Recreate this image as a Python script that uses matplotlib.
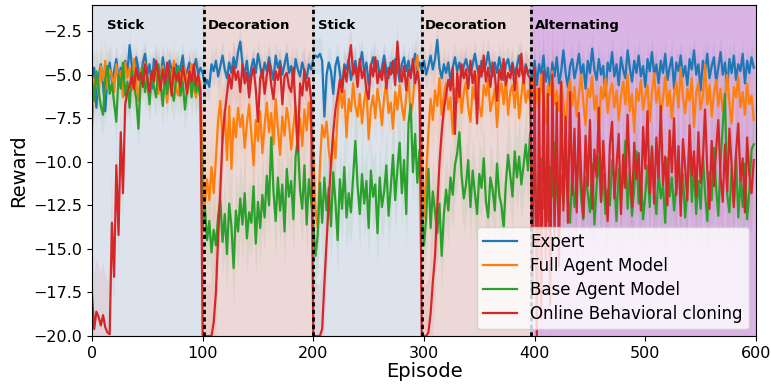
import numpy as np
import matplotlib
matplotlib.use("Agg")
import matplotlib.pyplot as plt

# episodes sampled every 2 episodes
episodes = np.arange(0, 600, 2)

expert = [
 -5.2,-4.6,-6.9,-5.1,-4.4,-5.6,-7.1,-5.0,-4.3,-5.4,
 -4.8,-4.1,-5.3,-4.6,-5.9,-4.2,-4.9,-3.3,-4.5,-5.2,
 -4.0,-4.7,-5.5,-4.3,-3.8,-5.0,-4.4,-5.8,-4.1,-4.8,
 -4.5,-5.3,-4.0,-4.9,-5.6,-4.2,-4.7,-5.1,-4.4,-5.4,
 -4.6,-3.9,-5.2,-4.8,-4.3,-5.5,-4.7,-4.1,-5.0,-4.6,
 -4.9,-5.6,-5.3,-5.7,-4.4,-4.8,-4.2,-5.1,-4.5,-3.9,
 -4.7,-5.2,-4.3,-4.9,-4.0,-4.6,-3.7,-3.1,-4.4,-5.0,
 -4.2,-5.5,-4.6,-4.1,-4.9,-3.8,-4.5,-5.2,-4.3,-4.8,
 -4.0,-4.7,-5.3,-3.9,-4.6,-4.2,-5.0,-4.4,-3.8,-4.9,
 -4.5,-5.4,-4.1,-4.7,-5.1,-4.3,-4.8,-5.2,-4.4,-4.7,
 -4.1,-3.9,-4.0,-3.8,-4.2,-7.4,-5.0,-4.3,-4.8,-6.1,
 -4.5,-4.0,-4.9,-5.8,-4.4,-4.7,-4.1,-5.3,-4.6,-4.2,
 -5.0,-4.4,-3.7,-4.9,-4.3,-5.6,-4.5,-4.0,-4.8,-4.2,
 -5.1,-4.6,-3.9,-4.7,-5.2,-4.3,-4.9,-4.1,-4.6,-5.4,
 -4.4,-4.0,-4.8,-4.2,-5.0,-4.5,-3.8,-4.7,-4.3,
 -4.8,-4.2,-5.0,-4.5,-3.9,-4.7,-4.1,-3.0,-4.6,-5.2,
 -4.4,-4.9,-4.3,-5.4,-4.6,-4.0,-4.8,-4.3,-5.1,-4.5,
 -4.1,-4.7,-5.0,-4.4,-3.8,-4.6,-5.2,-4.2,-4.8,-4.4,
 -3.7,-4.6,-5.1,-4.3,-4.9,-4.0,-4.7,-5.3,-4.4,-4.1,
 -4.8,-4.3,-5.0,-4.5,-3.9,-4.7,-5.2,-4.4,-4.9,
 -4.7,-5.3,-4.2,-5.6,-4.4,-5.0,-3.9,-5.4,-4.6,-5.9,
 -4.3,-5.1,-4.0,-5.5,-4.8,-3.6,-4.9,-5.7,-4.5,-4.1,
 -5.2,-4.6,-3.8,-5.0,-4.4,-5.8,-4.2,-4.9,-3.5,-4.7,
 -5.3,-4.1,-5.0,-4.5,-6.2,-4.3,-4.8,-3.7,-5.1,-4.4,
 -5.6,-4.0,-4.7,-5.2,-3.6,-4.6,-5.4,-4.2,-4.9,-3.9,
 -5.1,-4.5,-5.7,-4.1,-4.8,-3.7,-5.0,-4.4,-5.5,-4.2,
 -4.9,-3.8,-5.3,-4.6,-4.0,-5.8,-4.3,-4.8,-3.9,-5.1,
 -4.5,-5.6,-4.1,-4.7,-3.6,-5.0,-4.4,-5.9,-4.2,-4.8,
 -3.8,-5.2,-4.5,-4.0,-5.4,-4.6,-3.7,-5.0,-4.3,-5.7,
 -4.1,-4.9,-3.9,-5.3,-4.4,-4.8,-3.8,-5.5,-4.2,-4.9,
 -4.0,-4.6,
]

full_agent = [
 -8.0,-5.6,-4.9,-6.2,-4.5,-5.3,-4.2,-5.8,-4.7,-5.1,
 -6.0,-4.4,-5.5,-4.8,-6.3,-4.3,-5.2,-4.6,-5.9,-4.1,
 -5.4,-6.5,-4.7,-5.0,-4.3,-5.7,-6.4,-4.9,-5.3,-4.4,
 -6.1,-5.0,-4.5,-5.6,-6.6,-4.8,-5.2,-4.2,-5.8,-6.2,
 -4.9,-5.4,-4.6,-6.0,-5.1,-4.4,-5.7,-6.3,-5.0,-5.5,
 -10.5,-12.4,-11.0,-12.2,-10.3,-11.8,-9.8,-7.6,-6.5,-8.9,
 -7.0,-9.9,-6.8,-10.4,-7.5,-8.6,-6.9,-8.0,-7.3,-9.2,
 -7.8,-6.7,-8.4,-10.2,-7.6,-8.8,-7.1,-9.5,-7.9,-6.6,
 -8.3,-7.2,-9.0,-6.4,-8.1,-9.6,-7.4,-8.5,-6.9,-7.7,
 -9.3,-8.0,-6.8,-8.7,-7.5,-9.1,-7.0,-8.2,-6.6,-7.9,
 -9.6,-12.8,-13.8,-10.2,-7.9,-8.6,-7.7,-9.4,-10.3,-8.5,
 -9.8,-7.2,-5.6,-6.9,-5.9,-8.6,-6.4,-7.1,-5.5,-6.8,
 -7.4,-6.1,-7.8,-6.5,-5.7,-8.7,-6.9,-6.2,-7.5,-5.8,
 -6.7,-7.9,-6.3,-5.4,-7.2,-6.6,-8.1,-6.0,-7.0,-5.6,
 -6.8,-7.6,-6.2,-5.3,-7.3,-6.5,-4.6,-3.9,-6.4,
 -9.2,-13.2,-10.8,-8.3,-6.4,-7.6,-5.9,-6.8,-5.2,-7.3,
 -6.1,-5.5,-7.0,-6.3,-8.4,-5.8,-6.6,-5.1,-7.2,-6.0,
 -5.4,-6.9,-7.7,-5.7,-6.4,-5.0,-6.8,-7.4,-5.6,-6.2,
 -5.3,-7.1,-6.5,-5.8,-8.0,-6.1,-5.5,-6.7,-5.2,-7.3,
 -6.0,-5.6,-6.9,-5.4,-7.5,-6.2,-5.1,-6.6,-5.9,
 -6.6,-5.2,-7.3,-5.8,-6.9,-5.0,-6.4,-7.8,-5.6,-6.2,
 -4.8,-6.7,-5.9,-7.1,-5.4,-6.5,-8.2,-6.0,-5.3,-6.8,
 -5.7,-7.4,-6.1,-5.0,-6.6,-7.9,-5.8,-6.3,-5.1,-7.0,
 -6.2,-8.6,-5.7,-6.4,-5.2,-7.2,-6.0,-5.5,-6.9,-5.9,
 -7.6,-6.3,-5.4,-6.7,-5.0,-7.1,-6.1,-8.3,-5.8,-6.5,
 -5.3,-7.0,-6.2,-5.6,-7.7,-6.0,-4.9,-6.6,-5.7,-7.3,
 -6.4,-5.1,-6.8,-5.9,-7.5,-6.1,-5.4,-6.9,-4.6,-6.3,
 -7.2,-5.8,-6.5,-5.2,-8.0,-6.0,-5.5,-7.0,-6.2,-4.4,
 -6.7,-5.6,-7.4,-6.1,-5.3,-6.8,-5.8,-7.1,-6.4,-5.0,
 -6.6,-7.8,-5.7,-6.3,-5.1,-6.9,-6.0,-7.3,-5.5,-6.7,
 -6.2,-7.6,
]

base_agent = [
 -5.4,-6.5,-4.8,-5.9,-6.8,-7.3,-5.2,-4.5,-6.1,-5.5,
 -6.6,-7.7,-5.0,-5.8,-4.3,-6.2,-5.4,-6.9,-4.7,-5.6,
 -6.4,-8.1,-5.3,-4.6,-6.0,-5.1,-6.7,-4.9,-5.7,-6.3,
 -4.4,-5.5,-6.8,-5.0,-6.1,-4.7,-5.9,-6.5,-5.2,-4.5,
 -6.2,-5.4,-7.0,-5.8,-4.9,-6.3,-5.1,-6.0,-5.6,-6.4,
 -13.8,-12.6,-14.5,-13.4,-15.2,-13.9,-14.8,-13.1,-12.2,-14.6,
 -13.0,-15.3,-12.4,-13.7,-16.1,-12.8,-14.0,-12.1,-13.6,-11.8,
 -14.4,-12.9,-13.5,-11.4,-14.7,-12.3,-13.8,-11.9,-13.2,-10.8,
 -12.5,-8.6,-11.7,-13.4,-10.9,-12.8,-11.3,-14.0,-10.4,-12.0,
 -11.1,-13.3,-9.7,-8.7,-11.6,-12.7,-10.2,-13.6,-11.0,-12.2,
 -13.6,-15.4,-14.2,-11.2,-13.5,-10.9,-12.8,-11.5,-13.7,-10.6,
 -12.3,-14.5,-11.0,-12.7,-10.3,-13.2,-11.8,-12.9,-10.8,-8.8,
 -11.4,-13.0,-10.7,-12.4,-11.1,-13.8,-10.5,-12.0,-11.3,-14.1,
 -10.9,-12.6,-11.7,-10.2,-13.1,-11.5,-9.6,-12.2,-10.4,-8.9,
 -11.8,-9.9,-13.0,-7.8,-6.7,-10.6,-8.4,-11.2,-9.3,
 -12.9,-14.8,-13.2,-10.4,-13.8,-11.7,-12.9,-14.1,-12.4,-15.4,
 -13.0,-11.6,-12.8,-10.9,-11.9,-10.2,-9.5,-8.3,-10.8,-12.1,
 -11.3,-9.9,-12.6,-10.5,-11.8,-13.0,-10.7,-11.5,-9.8,-12.3,
 -13.2,-10.9,-11.6,-12.8,-10.1,-11.9,-12.5,-13.8,-11.2,-9.6,
 -10.8,-12.0,-9.4,-10.9,-9.7,-11.3,-10.2,-9.0,-10.5,
 -8.3,-12.2,-10.6,-13.1,-11.4,-9.8,-12.7,-11.0,-13.4,-10.3,
 -12.0,-8.9,-11.7,-13.2,-10.8,-12.4,-9.6,-11.9,-13.5,-10.5,
 -12.6,-11.2,-9.3,-12.1,-13.3,-10.9,-11.8,-12.9,-10.1,-13.6,
 -11.4,-9.7,-12.3,-10.7,-13.0,-11.6,-12.5,-9.9,-11.1,-13.4,
 -10.4,-12.2,-11.0,-8.8,-12.7,-10.6,-13.1,-11.5,-9.4,-12.4,
 -10.8,-13.3,-11.9,-10.2,-12.6,-9.1,-11.7,-13.0,-10.5,-12.1,
 -11.3,-13.5,-9.8,-12.0,-10.9,-12.8,-11.4,-9.5,-12.5,-10.7,
 -13.2,-11.6,-8.7,-12.3,-10.3,-13.0,-11.1,-12.7,-9.6,-11.8,
 -13.4,-10.6,-12.2,-9.2,-11.5,-13.1,-10.0,-7.9,-6.1,-11.9,
 -12.9,-10.4,-12.4,-9.7,-13.2,-11.0,-12.6,-10.1,-13.3,-11.7,
 -9.3,-9.0,
]

online_bc = [
 -17.6,-19.6,-18.6,-18.9,-19.4,-18.8,-19.5,-19.8,-19.9,-13.5,
 -16.6,-10.2,-14.2,-8.3,-11.8,-6.7,-6.0,-5.6,-5.1,-5.8,
 -4.6,-5.3,-4.9,-5.7,-4.4,-5.2,-6.0,-4.8,-5.4,-4.2,
 -5.0,-5.9,-4.7,-5.5,-4.3,-5.1,-6.2,-4.6,-5.3,-4.9,
 -5.7,-4.5,-5.2,-6.1,-4.8,-5.4,-4.4,-5.6,-5.0,-5.9,
 -20.0,-20.0,-20.0,-20.0,-20.0,-19.2,-17.5,-14.3,-11.6,-8.6,
 -7.2,-6.1,-5.0,-5.8,-4.5,-5.3,-4.8,-6.0,-4.4,-5.5,
 -4.9,-6.3,-5.1,-4.6,-5.8,-7.7,-5.2,-4.7,-6.1,-5.0,
 -4.3,-5.6,-6.4,-4.8,-5.3,-4.5,-6.7,-5.1,-4.9,-5.7,
 -6.0,-4.6,-7.1,-9.4,-5.5,-6.2,-4.7,-5.9,-5.2,-6.4,
 -20.0,-20.0,-20.0,-20.0,-19.6,-17.0,-14.6,-12.2,-10.1,-8.3,
 -7.0,-6.2,-5.3,-6.0,-4.6,-5.4,-4.2,-3.3,-5.0,-4.5,
 -5.7,-4.1,-5.2,-4.7,-5.9,-6.4,-4.4,-5.1,-4.0,-5.5,
 -4.8,-5.3,-4.3,-5.8,-4.6,-5.0,-4.2,-5.6,-3.1,-4.9,
 -5.4,-4.5,-5.9,-4.7,-5.2,-4.1,-5.5,-4.8,-5.6,
 -20.0,-20.0,-20.0,-19.8,-18.7,-16.9,-15.4,-12.6,-10.1,-8.3,
 -7.0,-6.1,-5.3,-5.9,-4.6,-8.4,-4.9,-6.3,-4.4,-5.2,
 -4.7,-5.8,-4.2,-5.5,-4.8,-7.8,-4.5,-5.1,-3.9,-5.4,
 -4.6,-5.7,-4.3,-5.0,-6.5,-4.7,-5.3,-4.1,-5.6,-4.9,
 -5.2,-4.4,-5.9,-4.6,-5.1,-3.8,-5.5,-4.5,-5.0,
 -5.2,-17.5,-4.6,-20.0,-5.8,-19.0,-4.8,-15.6,-6.1,-18.2,
 -5.0,-14.3,-6.6,-16.0,-5.4,-12.8,-7.4,-13.5,-6.0,-11.9,
 -8.1,-12.9,-7.2,-10.8,-13.2,-8.5,-11.4,-7.6,-12.7,-9.3,
 -10.9,-6.9,-12.3,-8.8,-11.6,-13.4,-9.0,-7.7,-12.1,-10.2,
 -8.4,-13.0,-9.6,-11.5,-7.3,-10.7,-12.6,-8.9,-11.0,-9.5,
 -12.8,-8.0,-10.4,-7.1,-11.8,-9.2,-12.4,-8.6,-10.9,-6.8,
 -11.3,-9.7,-12.5,-8.2,-10.6,-7.5,-11.9,-9.1,-13.1,-8.7,
 -10.3,-12.2,-7.9,-10.8,-9.4,-12.0,-8.3,-11.2,-9.9,-7.0,
 -10.5,-12.7,-8.8,-11.4,-9.3,-7.6,-10.9,-12.3,-9.0,-11.7,
 -8.1,-10.2,-12.6,-9.5,-7.8,-11.1,-9.8,-12.9,-8.6,-10.7,
 -11.8,-9.9,
]

# spread (std) per 20-episode block
expert_std = [1.0,0.8,0.8,0.8,0.8, 0.9,0.8,0.8,0.8,0.8, 1.0,0.8,0.8,0.8,0.8,
              0.9,0.8,0.8,0.8,0.8, 0.9,0.9,0.9,0.9,0.9, 0.9,0.9,0.9,0.9,0.9]
full_std = [1.5,1.2,1.2,1.2,1.2, 2.2,1.8,1.6,1.6,1.6, 2.5,1.6,1.4,1.4,1.4,
            2.0,1.3,1.3,1.3,1.3, 1.4,1.4,1.4,1.4,1.4, 1.4,1.4,1.4,1.4,1.4]
base_std = [1.2,1.2,1.2,1.2,1.2, 2.0,2.2,2.0,2.0,2.0, 2.2,2.0,2.0,2.0,2.0,
            2.0,2.0,2.0,2.0,2.0, 2.2,2.2,2.2,2.2,2.2, 2.2,2.2,2.2,2.2,2.2]
bc_std = [3.0,1.5,1.0,1.0,1.0, 3.0,1.5,1.0,1.0,1.5, 3.0,1.2,1.0,1.0,1.0,
          3.0,1.2,1.0,1.0,1.0, 4.0,2.5,2.5,2.5,2.5, 2.5,2.5,2.5,2.5,2.5]

series_names = ["Expert", "Full Agent Model", "Base Agent Model", "Online Behavioral cloning"]
series_colors = ["#1f77b4", "#ff7f0e", "#2ca02c", "#d62728"]

phase_names = ["Stick", "Decoration", "Stick", "Decoration", "Alternating"]
phase_bounds = [0, 100, 199.5, 297, 396, 600]
phase_lines = [101, 200, 298, 397]
phase_label_x = [13.5, 105, 204, 301, 400]
phase_colors = ["#dce3ec", "#ecd8d6", "#dce3ec", "#ecd8d6", "#d9b4e4"]

fig = plt.figure(figsize=(7.71, 3.86), dpi=100)
ax = fig.add_axes([0.1193, 0.1295, 0.8612, 0.8575])

for i in range(len(phase_names)):
    ax.axvspan(phase_bounds[i], phase_bounds[i + 1], facecolor=phase_colors[i],
               edgecolor="#b0b0b0", linestyle=":", linewidth=0.8, zorder=0)
    ax.text(phase_label_x[i], -2.2, phase_names[i], fontsize=9.5, fontweight="bold",
            va="center", ha="left", zorder=5)

all_means = [expert, full_agent, base_agent, online_bc]
all_stds = [expert_std, full_std, base_std, bc_std]
for name, col, m, s in zip(series_names, series_colors, all_means, all_stds):
    m = np.array(m)
    s = np.repeat(np.array(s), 10)
    ax.fill_between(episodes, m - s, m + s, color=col, alpha=0.08, linewidth=0, zorder=1)
    ax.plot(episodes, m, color=col, lw=1.6, label=name, zorder=2)

for xl in phase_lines:
    ax.axvline(xl, color="black", linestyle=(0, (1.5, 1.2)), lw=2, zorder=4)

ax.set_xlim(0, 600)
ax.set_ylim(-20, -1.0)
ax.set_yticks([-20, -17.5, -15, -12.5, -10, -7.5, -5, -2.5])
ax.set_yticklabels(["\u221220.0", "\u221217.5", "\u221215.0", "\u221212.5",
                    "\u221210.0", "\u22127.5", "\u22125.0", "\u22122.5"])
ax.set_xticks([0, 100, 200, 300, 400, 500, 600])
ax.tick_params(labelsize=11.5)
ax.set_xlabel("Episode", fontsize=14, labelpad=1)
ax.set_ylabel("Reward", fontsize=14)
leg = ax.legend(loc="lower right", fontsize=12, framealpha=0.8, borderaxespad=0.4,
                labelspacing=0.35)
leg.set_zorder(6)

fig.savefig("out.png", dpi=100)
